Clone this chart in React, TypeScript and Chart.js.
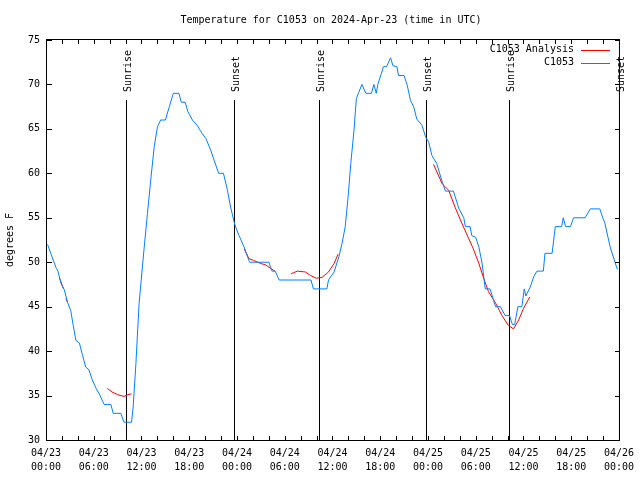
import React, { useEffect, useRef } from "react";
import { Chart, registerables } from "chart.js";

Chart.register(...registerables);

const FONT = "'DejaVu Sans Mono', monospace";

const TITLE = "Temperature for C1053 on 2024-Apr-23 (time in UTC)";
const Y_TITLE = "degrees F";

const xTickDates = ["04/23", "04/23", "04/23", "04/23", "04/24", "04/24", "04/24", "04/24", "04/25", "04/25", "04/25", "04/25", "04/26"];
const xTickTimes = ["00:00", "06:00", "12:00", "18:00", "00:00", "06:00", "12:00", "18:00", "00:00", "06:00", "12:00", "18:00", "00:00"];

const seriesNames = ["C1053 Analysis", "C1053"];
const seriesColors = ["#ff0000", "#0080ff"];

// hours since 2024-04-23 00:00 UTC
const stationHours = [
  0.2, 0.6, 1.0, 1.3, 1.5, 1.9, 2.3, 2.7, 3.1, 3.4, 3.76, 4.2, 4.6, 5.0, 5.4, 5.8, 6.3, 6.8, 7.3, 8.15,
  8.45, 9.4, 9.8, 10.75, 10.95, 11.3, 11.7, 12.3, 12.75, 13.2, 13.6, 14.0, 14.4, 15.0, 15.5, 16.0, 16.7, 17.0, 17.5, 17.8,
  18.4, 19.0, 19.6, 20.1, 20.7, 21.0, 21.7, 22.3, 22.8, 23.2, 23.7, 24.25, 24.9, 25.5, 25.6, 28.0, 28.4, 28.8, 29.3, 33.3,
  33.6, 35.3, 35.5, 36.2, 36.8, 37.2, 37.6, 38.0, 38.3, 38.7, 39.0, 39.3, 39.7, 40.2, 40.9, 41.2, 41.5, 41.7, 42.2, 42.4,
  42.8, 43.3, 43.6, 44.1, 44.3, 45.0, 45.4, 45.8, 46.2, 46.6, 47.25, 47.7, 48.1, 48.5, 49.1, 49.8, 50.2, 51.2, 51.9, 52.5,
  52.7, 53.3, 53.5, 54.0, 54.4, 54.8, 55.2, 55.8, 56.25, 56.5, 57.1, 57.7, 58.25, 58.6, 58.9, 59.3, 59.8, 60.1, 60.3, 60.85,
  61.3, 61.7, 62.5, 62.7, 63.6, 64.0, 64.8, 65.0, 65.3, 65.9, 66.3, 67.75, 68.4, 69.6, 70.0, 70.2, 70.9, 71.5, 71.8,
];
const stationTemps = [
  52, 51, 50, 49.3, 49, 47.6, 46.9, 45.5, 44.6, 43, 41.2, 40.9, 39.5, 38.2, 37.9, 36.8, 35.8, 35, 34, 34,
  33, 33, 32, 32, 33.7, 38.6, 45.4, 51.3, 55.5, 59.6, 63, 65.2, 66, 66, 67.5, 69, 69, 68, 68, 67,
  66, 65.4, 64.5, 63.9, 62.6, 61.8, 60, 60, 58.1, 56.2, 54.3, 53, 51.7, 50.2, 50, 50, 49, 49, 48, 48,
  47, 47, 48, 48.9, 50.6, 52.1, 54, 57.7, 61.1, 64.8, 68.4, 69.1, 70, 69, 69, 70, 69, 70, 71.4, 72,
  72, 73, 72.1, 72, 71, 71, 69.9, 68.2, 67.5, 66.1, 65.4, 64.1, 63.5, 62, 61.1, 59, 58, 58, 56, 55,
  54, 54, 53, 52.8, 51.7, 49.9, 47, 47, 45.7, 45, 45, 44, 44, 43, 43, 45, 45, 47, 46.2, 47.2,
  48.4, 49, 49, 51, 51, 54, 54, 55, 54, 54, 55, 55, 56, 56, 54.9, 54.5, 51.7, 50, 49.2,
];

// null entries mark gaps in the analysis line
const analysisHours = [
  1.7, 2.2, 2.35, 2.5, 2.7, 5.0,
  7.7, 8.3, 9.0, 9.8, 10.3, 10.75, 18.0,
  24.9, 25.5, 26.1, 27.0, 27.6, 28.4, 28.8, 29.8,
  30.8, 31.6, 32.6, 33.25, 33.95, 34.7, 35.5, 36.2, 36.7, 42.0,
  48.7, 49.8, 50.6, 51.4, 52.3, 53.1, 53.7, 54.4, 55.0, 55.6, 56.5, 57.3, 58.1, 58.75, 59.4, 60.0, 60.8,
];
const analysisTemps = [
  48.2, 47.0, null, 45.9, 45.5, null,
  35.8, 35.4, 35.1, 34.9, 35.1, 35.2, null,
  51.5, 50.4, 50.2, 49.85, 49.7, 49.2, 49.0, null,
  48.7, 49.0, 48.9, 48.5, 48.2, 48.3, 48.9, 49.85, 50.9, null,
  61.0, 58.8, 58.1, 56.2, 54.3, 52.7, 51.5, 49.85, 48.2, 46.7, 45.4, 44.0, 42.9, 42.5, 43.5, 44.8, 46.1,
];

const eventHours = [10.1, 23.65, 34.25, 47.75, 58.2, 71.95];
const eventLabels = ["Sunrise", "Sunset", "Sunrise", "Sunset", "Sunrise", "Sunset"];

const decorPlugin = {
  id: "gnuplotDecor",
  beforeDatasetsDraw(chart: any) {
    const { ctx, chartArea: a, scales } = chart;
    const x = scales.x;
    const h = a.bottom - a.top;
    ctx.save();
    ctx.strokeStyle = "#000";
    ctx.fillStyle = "#000";
    ctx.lineWidth = 1;
    ctx.font = `10px ${FONT}`;
    eventHours.forEach((hr, i) => {
      const px = Math.round(x.getPixelForValue(hr)) + 0.5;
      ctx.beginPath();
      ctx.moveTo(px, a.bottom - 0.85 * h);
      ctx.lineTo(px, a.bottom);
      ctx.stroke();
      ctx.save();
      ctx.translate(px + 1.5, a.bottom - 0.87 * h);
      ctx.rotate(-Math.PI / 2);
      ctx.textAlign = "left";
      ctx.textBaseline = "middle";
      ctx.fillText(eventLabels[i], 0, 0);
      ctx.restore();
    });
    ctx.restore();
  },
  afterDraw(chart: any) {
    const { ctx, chartArea: a, scales } = chart;
    const x = scales.x;
    const y = scales.y;
    ctx.save();
    ctx.strokeStyle = "#000";
    ctx.lineWidth = 1;
    // border
    ctx.strokeRect(a.left + 0.5, a.top - 0.5, a.right - a.left, a.bottom - a.top + 1);
    // inward ticks
    ctx.beginPath();
    for (let v = 0; v <= 72; v += 2) {
      const px = Math.round(x.getPixelForValue(v)) + 0.5;
      ctx.moveTo(px, a.bottom);
      ctx.lineTo(px, a.bottom - 4);
      ctx.moveTo(px, a.top);
      ctx.lineTo(px, a.top + 4);
    }
    for (let v = 30; v <= 75; v += 5) {
      const py = Math.round(y.getPixelForValue(v)) + 0.5;
      ctx.moveTo(a.left, py);
      ctx.lineTo(a.left + 6, py);
      ctx.moveTo(a.right, py);
      ctx.lineTo(a.right - 4, py);
    }
    ctx.stroke();
    // title
    ctx.fillStyle = "#000";
    ctx.font = `10px ${FONT}`;
    ctx.textAlign = "center";
    ctx.textBaseline = "middle";
    ctx.fillText(TITLE, 331, 20);
    // legend
    ctx.textAlign = "right";
    [0, 1].forEach((i) => {
      const ly = 49.5 + i * 13;
      ctx.fillStyle = "#000";
      ctx.fillText(seriesNames[i], 574, ly);
      ctx.strokeStyle = seriesColors[i];
      ctx.beginPath();
      ctx.moveTo(581, Math.round(ly) + 0.5);
      ctx.lineTo(610, Math.round(ly) + 0.5);
      ctx.stroke();
    });
    ctx.restore();
  },
};

export default function App() {
  const ref = useRef<HTMLCanvasElement | null>(null);
  useEffect(() => {
    document.body.style.margin = "0";
    const canvas = ref.current;
    if (!canvas) return;
    const font = { family: FONT, size: 10 };
    const chart = new Chart(canvas, {
      type: "line",
      data: {
        datasets: [
          {
            label: seriesNames[0],
            data: analysisHours.map((h, i) => ({ x: h, y: analysisTemps[i] })),
            borderColor: seriesColors[0],
            borderWidth: 1,
            pointRadius: 0,
            tension: 0,
            spanGaps: false,
            order: 2,
          },
          {
            label: seriesNames[1],
            data: stationHours.map((h, i) => ({ x: h, y: stationTemps[i] })),
            borderColor: seriesColors[1],
            borderWidth: 1,
            pointRadius: 0,
            tension: 0,
            order: 1,
          },
        ],
      },
      options: {
        animation: false,
        responsive: false,
        devicePixelRatio: 1,
        layout: { padding: { top: 40, right: 19, left: 0, bottom: 0 } },
        plugins: {
          legend: { display: false },
          title: { display: false },
          tooltip: { enabled: false },
        },
        scales: {
          x: {
            type: "linear",
            min: 0,
            max: 72,
            border: { display: false },
            grid: { display: false, drawTicks: false },
            ticks: {
              stepSize: 6,
              autoSkip: false,
              maxRotation: 0,
              padding: 6,
              color: "#000",
              font: { family: FONT, size: 10, lineHeight: 1.4 },
              callback: (v: any) => {
                const i = Math.round(Number(v) / 6);
                return [xTickDates[i], xTickTimes[i]];
              },
            },
            afterFit: (s: any) => {
              s.height = 40;
            },
          },
          y: {
            type: "linear",
            min: 30,
            max: 75,
            border: { display: false },
            grid: { display: false, drawTicks: false },
            ticks: { stepSize: 5, padding: 6, color: "#000", font },
            title: { display: true, text: Y_TITLE, color: "#000", font, padding: { top: 4, bottom: 0 } },
            afterFit: (s: any) => {
              s.width = 46;
            },
          },
        },
      },
      plugins: [decorPlugin],
    } as any);
    return () => chart.destroy();
  }, []);
  return (
    <div style={{ width: 640, height: 480, background: "#fff" }}>
      <canvas ref={ref} width={640} height={480} style={{ display: "block", width: 640, height: 480 }} />
    </div>
  );
}
